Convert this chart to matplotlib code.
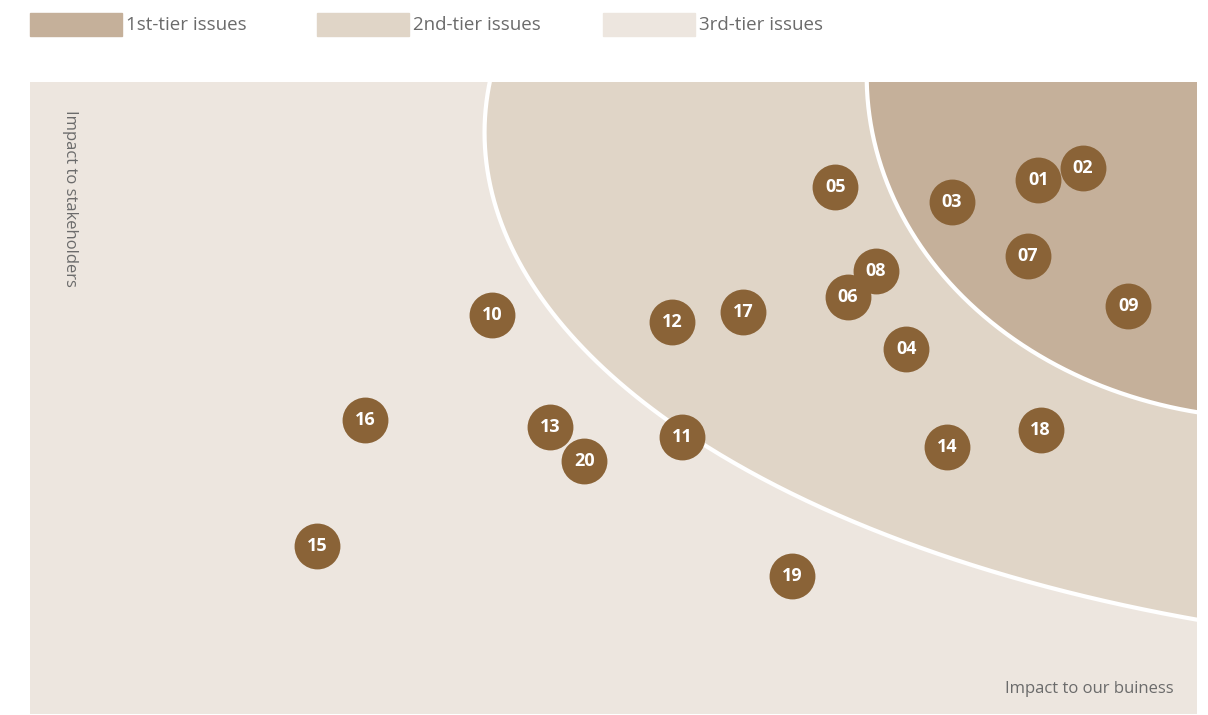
import numpy as np
import matplotlib.pyplot as plt
from matplotlib.patches import Rectangle

# materiality issues: impact to our business (x) vs impact to stakeholders (y), 0-100
issue_ids = ["01", "02", "03", "04", "05", "06", "07", "08", "09", "10",
             "11", "12", "13", "14", "15", "16", "17", "18", "19", "20"]
business = [86.4, 90.2, 79.0, 75.1, 69.0, 70.1, 85.5, 72.5, 94.1, 39.6,
            55.9, 55.0, 44.6, 78.6, 24.6, 28.7, 61.1, 86.6, 65.3, 47.5]
stakeholders = [84.5, 86.4, 81.0, 57.8, 83.4, 66.0, 72.5, 70.1, 64.6, 63.1,
                43.8, 62.0, 45.4, 42.2, 26.6, 46.5, 63.6, 44.9, 21.8, 40.0]

tier2_x = [39.2, 39.6, 42.8, 46.3, 52.1, 58.7, 68.6, 78.4, 88.3, 100.0]
tier2_y = [100.0, 85.3, 69.5, 58.9, 49.7, 41.8, 32.3, 24.8, 19.6, 14.9]
tier1_x = [71.7, 72.4, 73.7, 76.0, 78.8, 83.1, 87.4, 93.1, 100.0]
tier1_y = [100.0, 90.5, 82.6, 74.7, 68.4, 61.1, 55.7, 50.9, 47.8]

tier_names = ["1st-tier issues", "2nd-tier issues", "3rd-tier issues"]
tier_colors = ["#c5b09a", "#e0d5c7", "#ede6df"]
dot_color = "#8a6337"
text_color = "#6b6b6b"


def arc(xs, ys, n=300):
    # smooth the boundary: axis-aligned ellipse through the read points (least squares)
    xs, ys = np.asarray(xs), np.asarray(ys)
    M = np.column_stack([xs ** 2, ys ** 2, xs, ys])
    A, B, C, D = np.linalg.lstsq(M, np.ones(len(xs)), rcond=None)[0]
    cx, cy = -C / (2 * A), -D / (2 * B)
    K = 1 + C ** 2 / (4 * A) + D ** 2 / (4 * B)
    a, b = np.sqrt(K / A), np.sqrt(K / B)
    t0 = np.arctan2((ys[0] - cy) / b, (xs[0] - cx) / a)
    t1 = np.arctan2((ys[-1] - cy) / b, (xs[-1] - cx) / a)
    if t1 < t0:
        t1 += 2 * np.pi
    t = np.linspace(t0 - 0.08, t1 + 0.08, n)
    return cx + a * np.cos(t), cy + b * np.sin(t)


fig = plt.figure(figsize=(12.08, 7.15), dpi=100)
ax = fig.add_axes([30 / 1208, 1 / 715, 1167 / 1208, 632 / 715])
ax.set_xlim(0, 100)
ax.set_ylim(0, 100)
ax.axis("off")
ax.add_patch(Rectangle((0, 0), 100, 100, color=tier_colors[2], zorder=0))

for (bx, by), col in [((tier2_x, tier2_y), tier_colors[1]), ((tier1_x, tier1_y), tier_colors[0])]:
    sx, sy = arc(bx, by)
    ax.fill(np.append(sx, [200, 200]), np.append(sy, [-50, 200]), color=col, lw=0, zorder=1)
    ax.plot(sx, sy, color="white", lw=3, solid_capstyle="butt", zorder=2)

ax.scatter(business, stakeholders, s=1090, color=dot_color, lw=0, zorder=3)
for lab, x, y in zip(issue_ids, business, stakeholders):
    ax.text(x, y, lab, color="white", fontsize=13, fontweight="bold",
            family="Open Sans", ha="center", va="center", zorder=4)

ax.text(3.4, 95.5, "Impact to stakeholders", rotation=-90, color=text_color,
        fontsize=12, family="Open Sans", ha="center", va="top")
ax.text(98, 4, "Impact to our buiness", color=text_color,
        fontsize=12, family="Open Sans", ha="right", va="center")

# legend across the top
leg_x = [30, 317, 603]
for px, name, col in zip(leg_x, tier_names, tier_colors):
    fig.patches.append(Rectangle((px / 1208, (715 - 36) / 715), 92 / 1208, 23 / 715,
                                 color=col, transform=fig.transFigure))
    fig.text((px + 96) / 1208, (715 - 24.5) / 715, name, color=text_color,
             fontsize=13.5, family="Open Sans", va="center", ha="left")

fig.savefig("out.png", dpi=100)
